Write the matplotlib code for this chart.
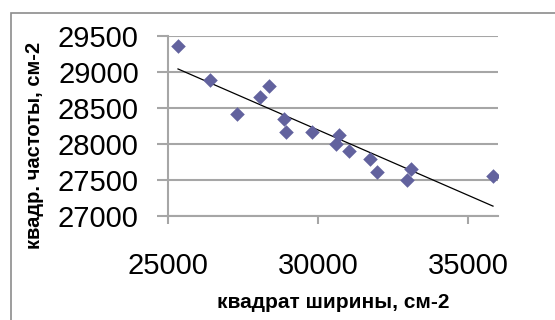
import numpy as np
import matplotlib
matplotlib.use("Agg")
import matplotlib.pyplot as plt

plt.rcParams["font.family"] = ["Liberation Sans", "DejaVu Sans"]

# squared width vs squared frequency, cm-2
width_sq = [25333, 26400, 27300, 28067, 28367, 28867, 28933, 29800,
            30600, 30700, 31033, 31733, 31967, 32967, 33100, 35833]
freq_sq = [29361, 28889, 28417, 28653, 28806, 28347, 28167, 28167,
           28000, 28125, 27903, 27792, 27611, 27500, 27653, 27556]

x_ticks = [25000, 30000, 35000]
y_ticks = [27000, 27500, 28000, 28500, 29000, 29500]

GRID = "#a6a6a6"
MARKER = "#62629e"

fig = plt.figure(figsize=(5.55, 3.2), dpi=100)
ax = fig.add_axes([168 / 555, 1 - 216 / 320, 330 / 555, 180 / 320])

x = np.array(width_sq)
y = np.array(freq_sq)
ax.scatter(x, y, marker="D", s=55, color=MARKER, zorder=3, linewidths=0)

# linear trend line over the data range
k, b = np.polyfit(x, y, 1)
xs = np.array([x.min(), x.max()])
ax.plot(xs, k * xs + b, color="black", lw=0.9, zorder=2)

ax.set_xlim(25000, 36000)
ax.set_ylim(27000, 29500)
ax.set_xticks(x_ticks)
ax.set_yticks(y_ticks)
ax.yaxis.grid(True, color=GRID, lw=1.5)
ax.set_axisbelow(True)

for side in ("top", "right"):
    ax.spines[side].set_visible(False)
for side in ("left", "bottom"):
    ax.spines[side].set_color(GRID)
    ax.spines[side].set_linewidth(1.5)

ax.tick_params(axis="y", length=8, width=1.5, color=GRID, pad=13, labelsize=21)
ax.tick_params(axis="x", length=6, width=1.5, color=GRID, pad=20, labelsize=21)

fig.text(333 / 555, 1 - 302 / 320, "квадрат ширины, см-2", ha="center",
         va="center", fontsize=15, fontweight="bold")
fig.text(35 / 555, 1 - 145 / 320, "квадр. частоты, см-2", ha="center",
         va="center", rotation=90, fontsize=14.5, fontweight="bold")

# outer chart frame
fig.patches.append(plt.Rectangle((11 / 555, -0.1), 1.0, 1 - 13 / 320 + 0.1,
                                 transform=fig.transFigure, fill=False,
                                 edgecolor="#8c8c8c", lw=1.2))

fig.savefig("out.png", dpi=100)
